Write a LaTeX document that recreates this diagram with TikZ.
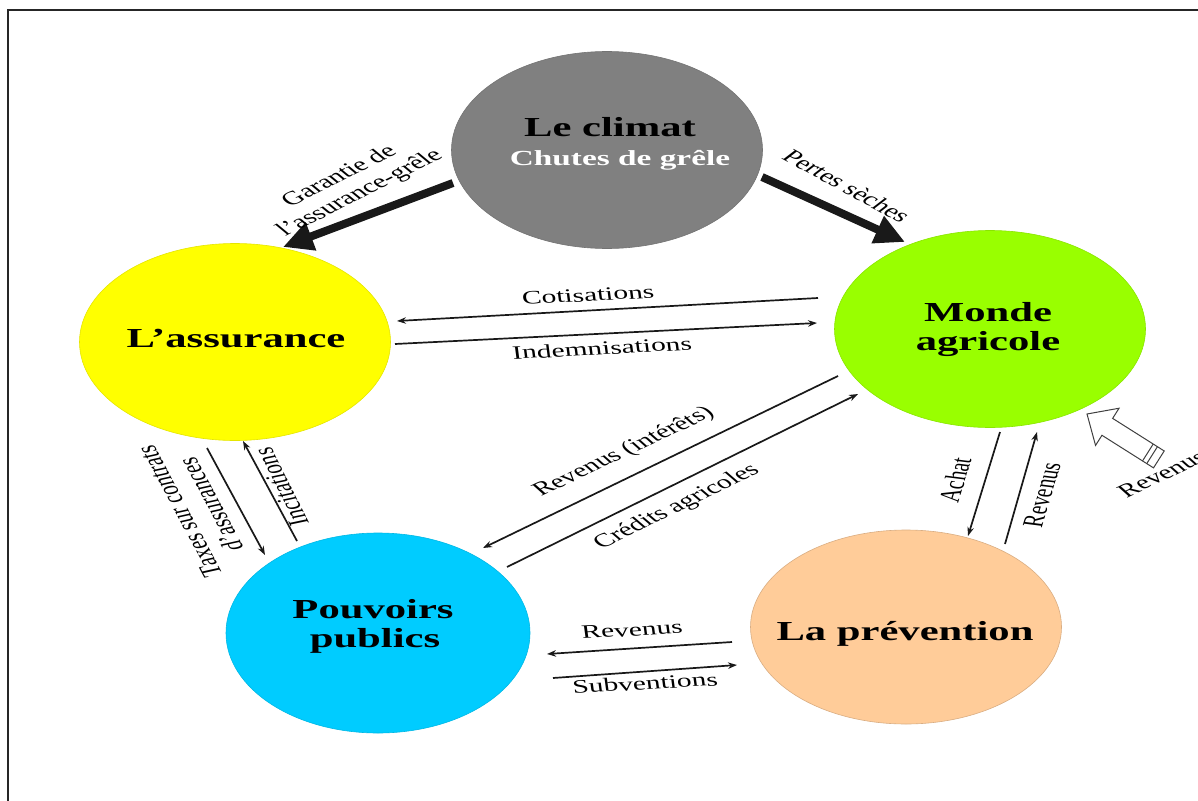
\documentclass[tikz,border=0pt]{standalone}
\usepackage{fontspec}
\setmainfont{Liberation Serif}
\usetikzlibrary{arrows.meta,shapes.geometric}
\definecolor{cclimat}{HTML}{808080}
\definecolor{cassur}{HTML}{FFFF00}
\definecolor{cmonde}{HTML}{99FF00}
\definecolor{cpouv}{HTML}{00CCFF}
\definecolor{cprev}{HTML}{FFCC99}
\tikzset{
  bubble/.style={ellipse, minimum width=311pt, minimum height=197pt, inner sep=0pt, line width=0.6pt},
  ttl/.style={font=\fontsize{27.5}{31}\selectfont\bfseries, xscale=1.55, inner sep=0pt, anchor=base},
  lab/.style={font=\fontsize{19}{21.5}\selectfont, xscale=1.55, inner sep=0pt, align=center},
  thinarrow/.style={line width=1.7pt, draw=black!90, -{Stealth[length=9pt,width=6.5pt]}},
  thickarrow/.style={line width=8pt, draw=black!90, -{Triangle[length=30pt,width=28pt]}},
}
\newcommand\Lbl[4]{\begin{scope}[shift={#2}]\node[lab,rotate=#3] (#1) at (0,0) {#4};\end{scope}}
\newcommand\Ttl[4]{\begin{scope}[shift={#2}]\node[ttl,#3] (#1) at (0,0) {#4};\end{scope}}
\begin{document}
\begin{tikzpicture}[x=1pt,y=-1pt]
\useasboundingbox (0,0) rectangle (1198,800);
% frame
\draw[line width=1.3pt, black!85] (8,805) -- (8,10) -- (1205,10);
% bubbles
\node[bubble, fill=cclimat, draw=cclimat!90!black] (climat) at (607,150) {};
\node[bubble, fill=cassur, draw=cassur!90!black] (assur) at (235,342) {};
\node[bubble, fill=cmonde, draw=cmonde!90!black] (monde) at (990,329) {};
\node[bubble, fill=cpouv, draw=cpouv!90!black, minimum width=304pt, minimum height=200pt] (pouv) at (378,633) {};
\node[bubble, fill=cprev, draw=cprev!85!black, minimum height=194pt] (prev) at (906,627) {};
% titles
\Ttl{t1}{(610,136)}{}{Le climat}
\Ttl{t2}{(620,165)}{text=white, font=\fontsize{21.5}{25}\selectfont\bfseries}{Chutes de grêle}
\Ttl{t3}{(236,347)}{}{L’assurance}
\Ttl{t4}{(988,321)}{}{Monde}
\Ttl{t5}{(988,350)}{}{agricole}
\Ttl{t6}{(373,618)}{}{Pouvoirs}
\Ttl{t7}{(375,647)}{}{publics}
\Ttl{t8}{(905,640)}{}{La prévention}
% connector end points
\coordinate (g1) at (453,183); \coordinate (g2) at (283,247);
\coordinate (p1) at (762,177); \coordinate (p2) at (905,242);
\coordinate (c1) at (818,298); \coordinate (c2) at (397,321);
\coordinate (i1) at (395,344); \coordinate (i2) at (817,323);
\coordinate (r1) at (838,376); \coordinate (r2) at (483,548);
\coordinate (k1) at (507,567); \coordinate (k2) at (858,394);
\coordinate (x1) at (207,448); \coordinate (x2) at (265,555);
\coordinate (n1) at (297,541); \coordinate (n2) at (243,441);
\coordinate (a1) at (1000,432); \coordinate (a2) at (968,536);
\coordinate (v1) at (1005,544); \coordinate (v2) at (1037,432);
\coordinate (b1) at (732,642); \coordinate (b2) at (547,654);
\coordinate (s1) at (553,678); \coordinate (s2) at (737,665);
% connectors
\draw[thickarrow] (g1) -- (g2);
\draw[thickarrow] (p1) -- (p2);
\draw[thinarrow] (c1) -- (c2);
\draw[thinarrow] (i1) -- (i2);
\draw[thinarrow] (r1) -- (r2);
\draw[thinarrow] (k1) -- (k2);
\draw[thinarrow] (x1) -- (x2);
\draw[thinarrow] (n1) -- (n2);
\draw[thinarrow] (a1) -- (a2);
\draw[thinarrow] (v1) -- (v2);
\draw[thinarrow] (b1) -- (b2);
\draw[thinarrow] (s1) -- (s2);
% hollow arrow
\begin{scope}[shift={(1087,414)}, rotate=-32.3]
  \draw[line width=1pt, draw=black!75, fill=white] (0,0) -- (24,-22) -- (24,-10) -- (85,-10) -- (85,10) -- (24,10) -- (24,22) -- cycle;
  \draw[line width=1pt, draw=black!75] (72,-10) -- (72,10) (77,-10) -- (77,10);
\end{scope}
% labels
\Lbl{l1}{(350,185)}{38}{Garantie de\\l’assurance-grêle}
\Lbl{l2}{(847,186)}{-40}{Pertes sèches}
\Lbl{l3}{(588,295)}{4.8}{Cotisations}
\Lbl{l4}{(602,348)}{4.8}{Indemnisations}
\Lbl{l5}{(624,452)}{36}{Revenus (intérêts)}
\Lbl{l6}{(677,507)}{37}{Crédits agricoles}
\Lbl{l7}{(195,508)}{109}{Taxes sur contrats\\d’assurances}
\Lbl{l8}{(281,487)}{108}{Incitations}
\Lbl{l9}{(955,480)}{79}{Achat}
\Lbl{l10}{(1042,495)}{79}{Revenus}
\Lbl{l11}{(1162,474)}{36}{Revenus}
\Lbl{l12}{(632,630)}{5}{Revenus}
\Lbl{l13}{(645,683)}{5}{Subventions}
\end{tikzpicture}
\end{document}
